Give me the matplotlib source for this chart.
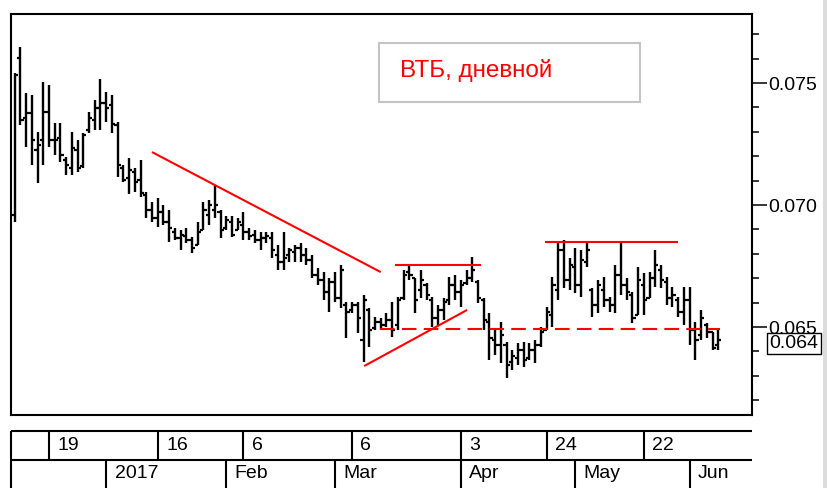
import numpy as np
import pandas as pd
import matplotlib
matplotlib.use('Agg')
import matplotlib.pyplot as plt
from matplotlib.ticker import MultipleLocator, FormatStrFormatter
from matplotlib.patches import Rectangle

plt.rcParams['font.family'] = ['Liberation Sans', 'DejaVu Sans']

# trading days of the exchange, Dec 9 2016 .. Jun 8 2017
holidays = ['2017-01-02', '2017-02-23', '2017-03-08',
            '2017-05-01', '2017-05-08', '2017-05-09']
dates = pd.bdate_range('2016-12-09', '2017-06-08', freq='C', holidays=holidays)

# daily OHLC
bar_open = [
    0.06959, 0.07603, 0.07357, 0.07377, 0.07225, 0.07266, 0.07381, 0.07266, 0.07275, 0.07184,
    0.07152, 0.07225, 0.07160, 0.07307, 0.07348, 0.07398, 0.07418, 0.07410, 0.07328, 0.07152,
    0.07111, 0.07135, 0.07102, 0.07041, 0.06980, 0.06947, 0.06971, 0.06930, 0.06889, 0.06865,
    0.06873, 0.06857, 0.06836, 0.06898, 0.06959, 0.06980, 0.06971, 0.06906, 0.06930, 0.06898,
    0.06918, 0.06889, 0.06877, 0.06857, 0.06865, 0.06865, 0.06795, 0.06766, 0.06795, 0.06807,
    0.06824, 0.06795, 0.06775, 0.06713, 0.06693, 0.06644, 0.06685, 0.06619, 0.06590, 0.06570,
    0.06590, 0.06447, 0.06570, 0.06496, 0.06520, 0.06508, 0.06529, 0.06508, 0.06619, 0.06725,
    0.06701, 0.06652, 0.06672, 0.06611, 0.06537, 0.06570, 0.06611, 0.06672, 0.06644, 0.06680,
    0.06701, 0.06685, 0.06611, 0.06520, 0.06447, 0.06426, 0.06426, 0.06357, 0.06373, 0.06406,
    0.06373, 0.06406, 0.06426, 0.06488, 0.06549, 0.06652, 0.06816, 0.06693, 0.06746, 0.06672,
    0.06766, 0.06652, 0.06590, 0.06652, 0.06611, 0.06590, 0.06713, 0.06672, 0.06631, 0.06549,
    0.06672, 0.06619, 0.06701, 0.06734, 0.06685, 0.06619, 0.06611, 0.06562, 0.06611, 0.06488,
    0.06467, 0.06508, 0.06480, 0.06426]
bar_high = [
    0.07541, 0.07648, 0.07459, 0.07451, 0.07299, 0.07504, 0.07492, 0.07336, 0.07336, 0.07197,
    0.07299, 0.07266, 0.07295, 0.07381, 0.07430, 0.07516, 0.07463, 0.07451, 0.07340, 0.07164,
    0.07193, 0.07152, 0.07184, 0.07053, 0.07012, 0.07029, 0.07000, 0.06980, 0.06906, 0.06898,
    0.06906, 0.06869, 0.06930, 0.07012, 0.07020, 0.07082, 0.06980, 0.06955, 0.06955, 0.06947,
    0.06971, 0.06906, 0.06898, 0.06889, 0.06889, 0.06889, 0.06836, 0.06889, 0.06824, 0.06836,
    0.06844, 0.06824, 0.06795, 0.06742, 0.06725, 0.06701, 0.06725, 0.06754, 0.06602, 0.06602,
    0.06602, 0.06631, 0.06578, 0.06541, 0.06537, 0.06557, 0.06602, 0.06623, 0.06734, 0.06754,
    0.06701, 0.06734, 0.06680, 0.06623, 0.06590, 0.06619, 0.06705, 0.06713, 0.06693, 0.06734,
    0.06787, 0.06693, 0.06619, 0.06557, 0.06488, 0.06520, 0.06438, 0.06406, 0.06434, 0.06438,
    0.06434, 0.06447, 0.06500, 0.06582, 0.06705, 0.06848, 0.06857, 0.06783, 0.06824, 0.06816,
    0.06848, 0.06660, 0.06693, 0.06705, 0.06623, 0.06754, 0.06848, 0.06701, 0.06644, 0.06746,
    0.06721, 0.06725, 0.06816, 0.06754, 0.06705, 0.06664, 0.06623, 0.06664, 0.06664, 0.06520,
    0.06570, 0.06516, 0.06480, 0.06496]
bar_low = [
    0.06930, 0.07328, 0.07238, 0.07164, 0.07090, 0.07164, 0.07238, 0.07205, 0.07176, 0.07123,
    0.07123, 0.07135, 0.07152, 0.07295, 0.07307, 0.07307, 0.07340, 0.07295, 0.07115, 0.07094,
    0.07045, 0.07053, 0.07033, 0.06947, 0.06930, 0.06910, 0.06918, 0.06848, 0.06857, 0.06816,
    0.06844, 0.06803, 0.06836, 0.06898, 0.06918, 0.06947, 0.06865, 0.06898, 0.06869, 0.06898,
    0.06857, 0.06857, 0.06844, 0.06816, 0.06844, 0.06783, 0.06734, 0.06734, 0.06766, 0.06766,
    0.06766, 0.06754, 0.06701, 0.06672, 0.06611, 0.06562, 0.06602, 0.06578, 0.06455, 0.06557,
    0.06475, 0.06357, 0.06418, 0.06488, 0.06488, 0.06500, 0.06459, 0.06488, 0.06611, 0.06693,
    0.06557, 0.06619, 0.06611, 0.06500, 0.06508, 0.06529, 0.06590, 0.06611, 0.06582, 0.06672,
    0.06685, 0.06598, 0.06488, 0.06365, 0.06385, 0.06353, 0.06291, 0.06324, 0.06344, 0.06336,
    0.06365, 0.06353, 0.06418, 0.06488, 0.06500, 0.06611, 0.06660, 0.06652, 0.06639, 0.06623,
    0.06746, 0.06541, 0.06557, 0.06582, 0.06562, 0.06557, 0.06631, 0.06611, 0.06516, 0.06549,
    0.06549, 0.06619, 0.06664, 0.06660, 0.06590, 0.06582, 0.06541, 0.06508, 0.06426, 0.06365,
    0.06447, 0.06455, 0.06406, 0.06406]
bar_close = [
    0.07533, 0.07348, 0.07377, 0.07266, 0.07246, 0.07381, 0.07266, 0.07266, 0.07205, 0.07164,
    0.07234, 0.07152, 0.07287, 0.07357, 0.07398, 0.07418, 0.07398, 0.07332, 0.07164, 0.07102,
    0.07144, 0.07094, 0.07049, 0.06980, 0.06947, 0.06971, 0.06930, 0.06906, 0.06865, 0.06877,
    0.06857, 0.06824, 0.06889, 0.06980, 0.07000, 0.07000, 0.06898, 0.06939, 0.06877, 0.06930,
    0.06889, 0.06873, 0.06857, 0.06865, 0.06873, 0.06816, 0.06766, 0.06783, 0.06816, 0.06824,
    0.06795, 0.06775, 0.06713, 0.06693, 0.06644, 0.06685, 0.06619, 0.06734, 0.06562, 0.06590,
    0.06537, 0.06611, 0.06488, 0.06520, 0.06508, 0.06529, 0.06488, 0.06611, 0.06713, 0.06713,
    0.06611, 0.06693, 0.06631, 0.06537, 0.06570, 0.06602, 0.06672, 0.06644, 0.06672, 0.06701,
    0.06734, 0.06619, 0.06529, 0.06455, 0.06426, 0.06467, 0.06344, 0.06381, 0.06406, 0.06365,
    0.06406, 0.06426, 0.06480, 0.06562, 0.06672, 0.06816, 0.06693, 0.06754, 0.06672, 0.06775,
    0.06816, 0.06590, 0.06672, 0.06611, 0.06590, 0.06713, 0.06672, 0.06644, 0.06537, 0.06693,
    0.06611, 0.06701, 0.06754, 0.06693, 0.06619, 0.06631, 0.06562, 0.06611, 0.06488, 0.06447,
    0.06537, 0.06480, 0.06414, 0.06447]

# date scale rows
day_ticks = ['2016-12-19', '2017-01-16', '2017-02-06', '2017-03-06',
             '2017-04-03', '2017-04-24', '2017-05-22']
month_ticks = ['2017-01-03', '2017-02-01', '2017-03-01', '2017-04-03',
               '2017-05-02', '2017-06-01']
month_labels = ['2017', 'Feb', 'Mar', 'Apr', 'May', 'Jun']

# hand drawn lines: (bar position, price) end points
solid_lines = [((24.0, 0.07217), (64.0, 0.06725)),
               ((66.5, 0.06754), (81.6, 0.06754)),
               ((61.1, 0.06340), (79.1, 0.06570)),
               ((92.7, 0.06848), (116.0, 0.06848))]
dashed_line = ((63.9, 0.06492), (123.3, 0.06492))

title = 'ВТБ, дневной'

W, H = 827, 488
fig = plt.figure(figsize=(W / 100, H / 100), dpi=100)
fig.patch.set_facecolor('white')

x = np.arange(len(dates))
xlim = (-0.64, 128.9)

ax = fig.add_axes([11 / W, 1 - 415 / H, 741 / W, 401 / H])
ax.vlines(x, bar_low, bar_high, color='black', lw=1.7)
ax.hlines(bar_open, x - 0.55, x, color='black', lw=1.6)
ax.hlines(bar_close, x, x + 0.55, color='black', lw=1.6)

for (x0, y0), (x1, y1) in solid_lines:
    ax.plot([x0, x1], [y0, y1], color='red', lw=1.5, solid_capstyle='butt')
(x0, y0), (x1, y1) = dashed_line
ax.plot([x0, x1], [y0, y1], color='red', lw=1.5, dashes=(7, 3.5))

ax.set_xlim(*xlim)
ax.set_ylim(0.061394, 0.077828)
ax.set_xticks([])
ax.yaxis.tick_right()
ax.yaxis.set_major_locator(MultipleLocator(0.005))
ax.yaxis.set_minor_locator(MultipleLocator(0.001))
ax.yaxis.set_major_formatter(FormatStrFormatter('%.3f'))
ax.tick_params(axis='y', which='major', length=11, width=1.1, labelsize=14, pad=1)
ax.tick_params(axis='y', which='minor', length=5, width=1.1)
for s in ax.spines.values():
    s.set_linewidth(1.5)

# last price box (covers the 0.065 label like in the terminal)
ax.annotate('%.3f' % bar_close[-1], xy=(1, bar_close[-1]),
            xycoords=('axes fraction', 'data'), xytext=(12.5, -2.5),
            textcoords='offset points', ha='left', va='center', fontsize=14,
            bbox=dict(boxstyle='square,pad=0.12', fc='white', ec='black', lw=1),
            annotation_clip=False, zorder=10)

# title box
fig.add_artist(Rectangle((379 / W, 1 - 102 / H), 261 / W, 59 / H,
                         transform=fig.transFigure, fill=False,
                         ec='#c4c4c4', lw=1.5))
fig.text(400 / W, 1 - 77 / H, title, color='red', fontsize=17.5, va='baseline')

# two-row date scale under the chart
dax = fig.add_axes([11 / W, 0, 741 / W, 57 / H])
dax.set_xlim(*xlim)
dax.set_ylim(0, 1)
dax.axis('off')
mid = 28 / 57
kw = dict(color='black', lw=1.5, clip_on=False, solid_capstyle='butt')
dax.plot(xlim, [1, 1], **kw)
dax.plot(xlim, [mid, mid], **kw)
dax.plot([xlim[0], xlim[0]], [0, 1], **kw)

pos = {d: i for i, d in enumerate(dates)}
for d in day_ticks:
    p = pos[pd.Timestamp(d)]
    dax.plot([p, p], [mid, 1], **kw)
    dax.annotate(str(pd.Timestamp(d).day), xy=(p, (1 + mid) / 2), xytext=(6, 0),
                 textcoords='offset points', ha='left', va='center', fontsize=14)
for d, lab in zip(month_ticks, month_labels):
    p = pos[pd.Timestamp(d)]
    dax.plot([p, p], [0, mid], **kw)
    dax.annotate(lab, xy=(p, mid / 2), xytext=(6, 0),
                 textcoords='offset points', ha='left', va='center', fontsize=14)

# window edge on the right
fig.add_artist(Rectangle((823 / W, 0), 4 / W, 1, transform=fig.transFigure,
                         color='#dcdcdc', lw=0))

fig.savefig('out.png', dpi=100)
